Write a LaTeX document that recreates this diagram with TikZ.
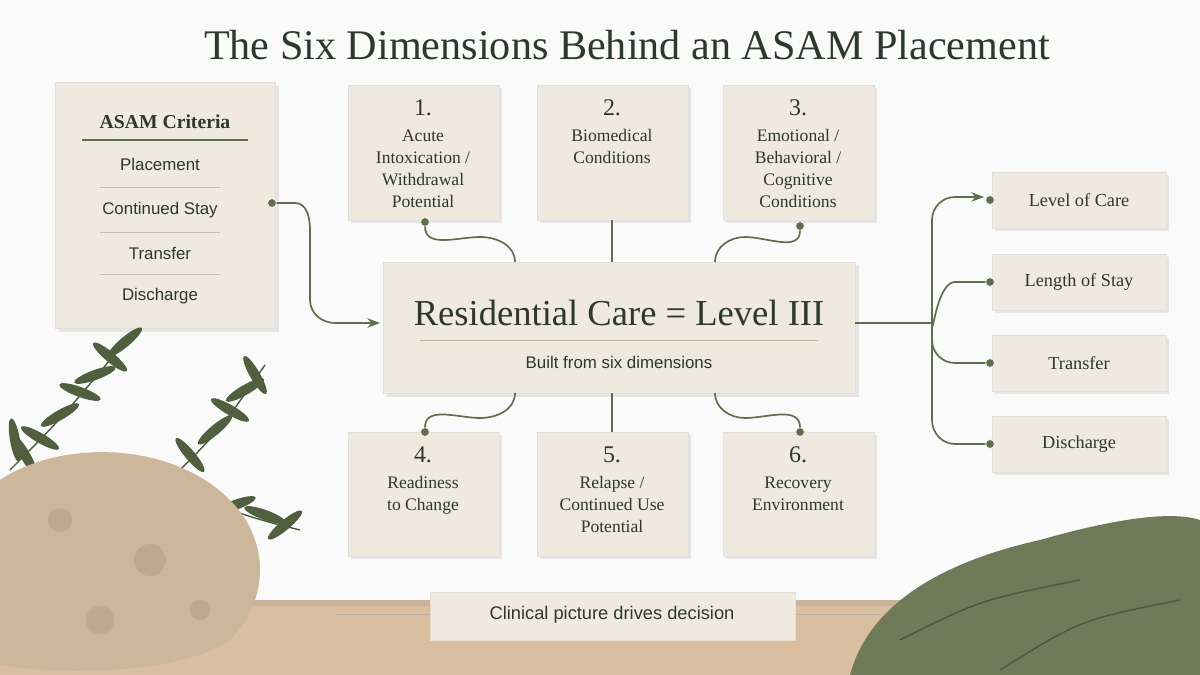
\documentclass[tikz,border=0pt]{standalone}
\usepackage{fontspec}
\setmainfont{Liberation Serif}
\setsansfont{Liberation Sans}
\usetikzlibrary{positioning,arrows.meta}
\definecolor{sage}{HTML}{5E7049}
\definecolor{paper}{HTML}{EFE9DF}
\definecolor{ink}{HTML}{2B3A2A}
\definecolor{wood}{HTML}{D9BFA0}
\definecolor{cloth}{HTML}{6F7A58}
\definecolor{rock}{HTML}{CDB79A}
\tikzset{
  card/.style={draw=black!12, fill=paper, inner sep=0pt},
  dim/.style={font=\fontsize{12.5}{15.5}\selectfont, text=ink, align=center},
  link/.style={draw=sage, line width=1.2pt},
  dot/.style={circle, fill=sage, draw=white, inner sep=2.2pt},
  leaf/.style={fill=sage!85!black, draw=none}
}
\begin{document}
\begin{tikzpicture}[x=0.025cm, y=-0.025cm]
\useasboundingbox (0,0) rectangle (1200,675);
\fill[black!2] (0,0) rectangle (1200,675);
% table
\fill[wood] (0,600) rectangle (1200,675);
\fill[wood!80!black, opacity=.3] (0,600) rectangle (1200,606);
% title
\node (title) at (627,45) {\fontsize{30}{32}\selectfont\color{ink}The Six Dimensions Behind an ASAM Placement};
% left criteria card
\fill[black!10] (59,86) rectangle (279,332);
\draw[card] (55,82) rectangle (275,328);
\node[font=\bfseries\fontsize{14}{16}\selectfont, text=ink] (crit) at (165,122) {ASAM Criteria};
\draw[sage, line width=0.8pt] (82,140) -- (248,140);
\foreach \y/\t in {164/Placement, 210/Continued Stay, 253/Transfer, 296/Discharge}
  \node[font=\sffamily\fontsize{12}{14}\selectfont, text=ink] at (160,\y) {\t};
\foreach \y in {187,232,274}
  \draw[black!25] (100,\y) -- (220,\y);
\node[dot] (cdot) at (272,203) {};
% center
\fill[black!10] (387,266) rectangle (859,397);
\draw[card] (383,262) rectangle (855,393);
\node[font=\fontsize{26}{28}\selectfont, text=ink] (main) at (619,313) {Residential Care = Level III};
\draw[sage!50] (420,340) -- (818,340);
\node[font=\sffamily\fontsize{12}{14}\selectfont, text=ink] (sub) at (619,362) {Built from six dimensions};
\coordinate (cin) at (380,323);
\coordinate (cout) at (855,323);
% dimension cards
\foreach \x/\y/\n/\t [count=\i] in {
  348/85/1./{Acute\\Intoxication /\\Withdrawal\\Potential},
  537/85/2./{Biomedical\\Conditions},
  723/85/3./{Emotional /\\Behavioral /\\Cognitive\\Conditions},
  348/432/4./{Readiness\\to Change},
  537/432/5./{Relapse /\\Continued Use\\Potential},
  723/432/6./{Recovery\\Environment}}{
  \fill[black!10] ({\x+3},{\y+3}) rectangle ++(151,{\i<4 ? 135 : 124});
  \draw[card] (\x,\y) rectangle ++(151,{\i<4 ? 135 : 124});
  \node[dim, anchor=north] (d\i) at ({\x+75},{\y+10}) {{\fontsize{17}{20}\selectfont\n}\\[3pt]\t};
}
% links to dimensions
\node[dot] (p1) at (425,222) {};
\node[dot] (p3) at (800,226) {};
\node[dot] (p4) at (425,432) {};
\node[dot] (p6) at (800,432) {};
\coordinate (t1) at (515,262); \coordinate (t2) at (612,262); \coordinate (t3) at (715,262);
\coordinate (b1) at (515,393); \coordinate (b2) at (612,393); \coordinate (b3) at (715,393);
\draw[link] (p1) to[out=-90, in=180] (480,237) to[out=0, in=90] (t1);
\draw[link] (612,220) -- (t2);
\draw[link] (p3) to[out=-90, in=0] (745,237) to[out=180, in=90] (t3);
\draw[link] (p4) to[out=90, in=180] (480,418) to[out=0, in=-90] (b1);
\draw[link] (612,432) -- (b2);
\draw[link] (p6) to[out=90, in=0] (745,418) to[out=180, in=-90] (b3);
\draw[link, -{Stealth[length=9pt]}] (cdot) -- (295,203) to[out=0, in=90] (310,230) -- (310,300) to[out=-90, in=180] (335,323) -- (cin);
% outcomes
\coordinate (hub) at (932,323);
\draw[link] (cout) -- (hub);
\foreach \y/\t [count=\j] in {200/Level of Care, 282/Length of Stay, 363/Transfer, 444/Discharge}{
  \fill[black!10] (995,{\y-25}) rectangle (1169,{\y+31});
  \draw[card] (992,{\y-28}) rectangle (1166,{\y+28});
  \node[font=\fontsize{13}{15}\selectfont, text=ink] (o\j) at (1079,\y) {\t};
  \node[dot] (od\j) at (990,\y) {};
}
\draw[link, -{Stealth[length=9pt]}] (hub) -- (932,220) to[out=90, in=180] (955,197) -- (984,197);
\draw[link] (hub) to[out=-90, in=180] (955,282) -- (od2);
\draw[link] (hub) -- (932,340) to[out=-90, in=180] (955,363) -- (od3);
\draw[link] (hub) -- (932,420) to[out=-90, in=180] (955,444) -- (od4);
% bottom banner
\draw[black!30] (335,614) -- (430,614) (795,614) -- (880,614);
\draw[card] (430,592) rectangle (795,640);
\node[font=\sffamily\fontsize{13}{15}\selectfont, text=ink] (banner) at (612,615) {Clinical picture drives decision};
% decorations: rock, branches, cloth
\draw[sage!80!black, line width=1pt] (10,470) .. controls (60,420) .. (135,330);
\foreach \px/\py/\a in {40/438/150, 60/415/30, 80/392/160, 95/375/20, 110/357/140, 125/342/40, 25/455/120, 15/440/100}
  \fill[leaf, rotate around={\a:(\px,\py)}] (\px,\py) ellipse (22 and 5);
\draw[sage!80!black, line width=1pt] (170,480) .. controls (220,430) .. (265,365) (200,500) .. controls (260,520) .. (300,530);
\foreach \px/\py/\a in {190/455/130, 215/430/40, 230/410/150, 245/390/30, 255/375/120, 235/505/20, 265/515/160, 285/525/40}
  \fill[leaf, rotate around={\a:(\px,\py)}] (\px,\py) ellipse (22 and 5);
\fill[rock] (0,480) .. controls (60,440) and (170,440) .. (230,500) .. controls (270,540) and (270,600) .. (230,640) .. controls (180,675) and (60,675) .. (0,665) -- cycle;
\fill[rock!70!black, opacity=.25] (60,520) circle (12) (150,560) circle (16) (200,610) circle (10) (100,620) circle (14);
\fill[cloth] (850,675) .. controls (870,600) and (950,560) .. (1040,540) .. controls (1110,520) and (1170,510) .. (1200,520) -- (1200,675) -- cycle;
\draw[cloth!70!black, line width=1pt] (900,640) .. controls (980,600) .. (1080,580) (1000,670) .. controls (1080,620) .. (1180,600);
\end{tikzpicture}
\end{document}
